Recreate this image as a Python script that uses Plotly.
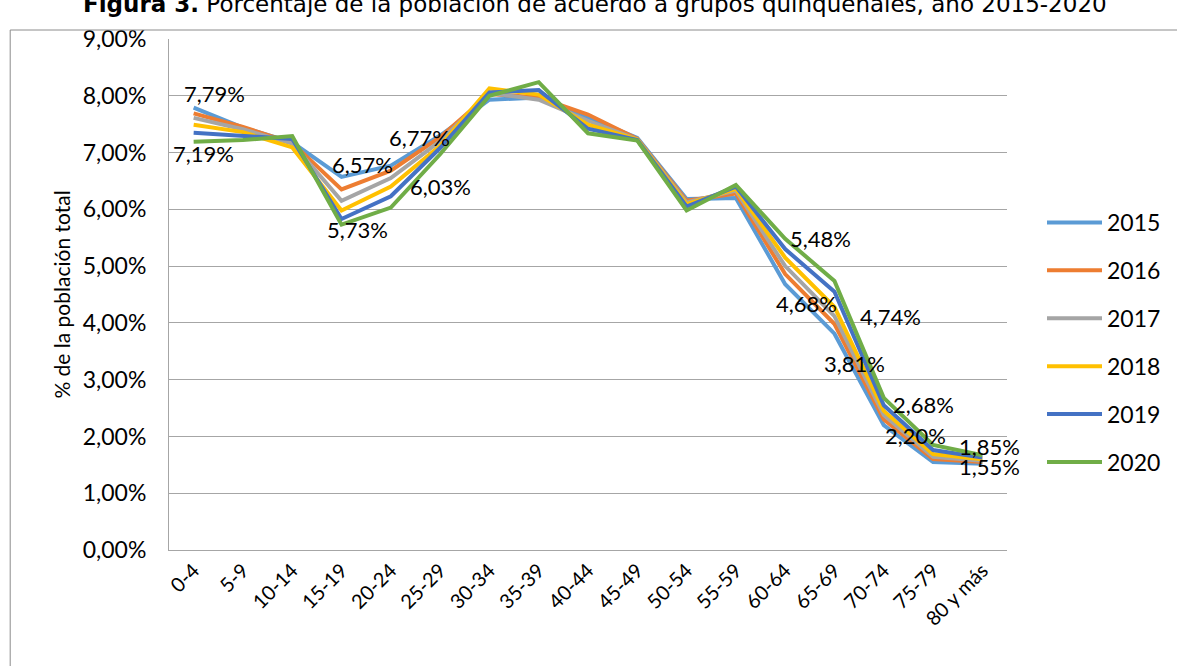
import plotly.graph_objects as go

#############################################
########## 1. Data
#############################################
grupos = ['0-4', '5-9', '10-14', '15-19', '20-24', '25-29', '30-34', '35-39', '40-44',
          '45-49', '50-54', '55-59', '60-64', '65-69', '70-74', '75-79', '80 y más']

anios = ['2015', '2016', '2017', '2018', '2019', '2020']

p2015 = [7.79, 7.44, 7.18, 6.57, 6.77, 7.30, 7.93, 7.97, 7.62, 7.26, 6.18, 6.20, 4.68, 3.81, 2.20, 1.55, 1.52]
p2016 = [7.69, 7.45, 7.17, 6.35, 6.68, 7.27, 8.03, 7.97, 7.67, 7.24, 6.15, 6.28, 4.86, 3.98, 2.30, 1.60, 1.55]
p2017 = [7.61, 7.41, 7.16, 6.15, 6.55, 7.20, 8.05, 7.93, 7.56, 7.23, 6.12, 6.33, 5.00, 4.12, 2.38, 1.64, 1.57]
p2018 = [7.49, 7.36, 7.09, 5.98, 6.40, 7.12, 8.13, 8.02, 7.49, 7.23, 6.09, 6.36, 5.15, 4.28, 2.45, 1.69, 1.60]
p2019 = [7.35, 7.29, 7.24, 5.83, 6.23, 7.08, 8.06, 8.10, 7.42, 7.22, 6.05, 6.40, 5.30, 4.55, 2.55, 1.76, 1.63]
p2020 = [7.19, 7.22, 7.29, 5.73, 6.03, 6.97, 8.00, 8.24, 7.34, 7.21, 5.98, 6.43, 5.48, 4.74, 2.68, 1.85, 1.67]

series = [p2015, p2016, p2017, p2018, p2019, p2020]
colores = ['#5B9BD5', '#ED7D31', '#A5A5A5', '#FFC000', '#4472C4', '#70AD47']

# etiquetas: (serie, grupo, desplazamiento x, desplazamiento y)
etiquetas = [(0, 0, 21, 14), (5, 0, 10, -12),
             (0, 3, 21, 12), (5, 3, 16, -5),
             (0, 4, 29, 28), (5, 4, 50, 21),
             (5, 12, 35, 0), (0, 12, 21, -19),
             (5, 13, 56, -36), (0, 13, 20, -30),
             (5, 14, 40, -7), (0, 14, 32, -10),
             (5, 15, 56, -2), (0, 15, 56, -5)]

#############################################
########## 2. Plot
#############################################
W, H = 1177, 666
L, R, T, B = 169, 169, 39, 116
pw, ph = W - L - R, H - T - B

fig = go.Figure()
for anio, valores, color in zip(anios, series, colores):
	fig.add_trace(go.Scatter(x=grupos, y=valores, name=anio, mode='lines', legendgroup=anio,
							 line=dict(color=color, width=4)))

for s, i, dx, dy in etiquetas:
	v = series[s][i]
	fig.add_annotation(x=grupos[i], y=v, text='{:.2f}%'.format(v).replace('.', ','), showarrow=False,
					   xshift=dx, yshift=dy, font=dict(family='Lato', size=22, color='black'))

# Titulo (cortado arriba como en la imagen)
fig.add_annotation(xref='paper', yref='paper', x=(596 - L) / pw, y=(H - B - 4) / ph, yanchor='middle',
				   text='<b>Figura 3.</b> Porcentaje de la población de acuerdo a grupos quinquenales, año 2015-2020',
				   showarrow=False, font=dict(family='DejaVu Sans', size=23, color='black'))

# Marco del grafico
fig.add_shape(type='rect', xref='paper', yref='paper', x0=(10 - L) / pw, x1=1.3,
			  y0=-0.5, y1=(H - B - 30) / ph, line=dict(color='#8c8c8c', width=1))

fig.update_layout(
	width=W, height=H, margin=dict(l=L, r=R, t=T, b=B),
	paper_bgcolor='white', plot_bgcolor='white', separators=', ',
	font=dict(family='Lato', color='black'),
	legend=dict(x=(1042 - L) / pw, y=(H - B - 201) / ph, xanchor='left', yanchor='top',
				font=dict(size=23), tracegroupgap=15, itemwidth=55, bgcolor='rgba(0,0,0,0)'),
	xaxis=dict(tickangle=-45, tickfont=dict(size=20), showgrid=False, showline=True,
			   linecolor='#a6a6a6', linewidth=1, ticks='', range=[-0.5, 16.5]),
	yaxis=dict(range=[0, 9], dtick=1, tickformat='.2f', ticksuffix='%', tickfont=dict(size=23),
			   showgrid=True, gridcolor='#a6a6a6', gridwidth=1, showline=True, linecolor='#a6a6a6',
			   zeroline=False, ticklabelstandoff=17,
			   title=dict(text='% de la población total', font=dict(size=21), standoff=6)),
)

fig.write_html('out.html', config={'displayModeBar': False}, post_script="document.body.style.margin='0';")
